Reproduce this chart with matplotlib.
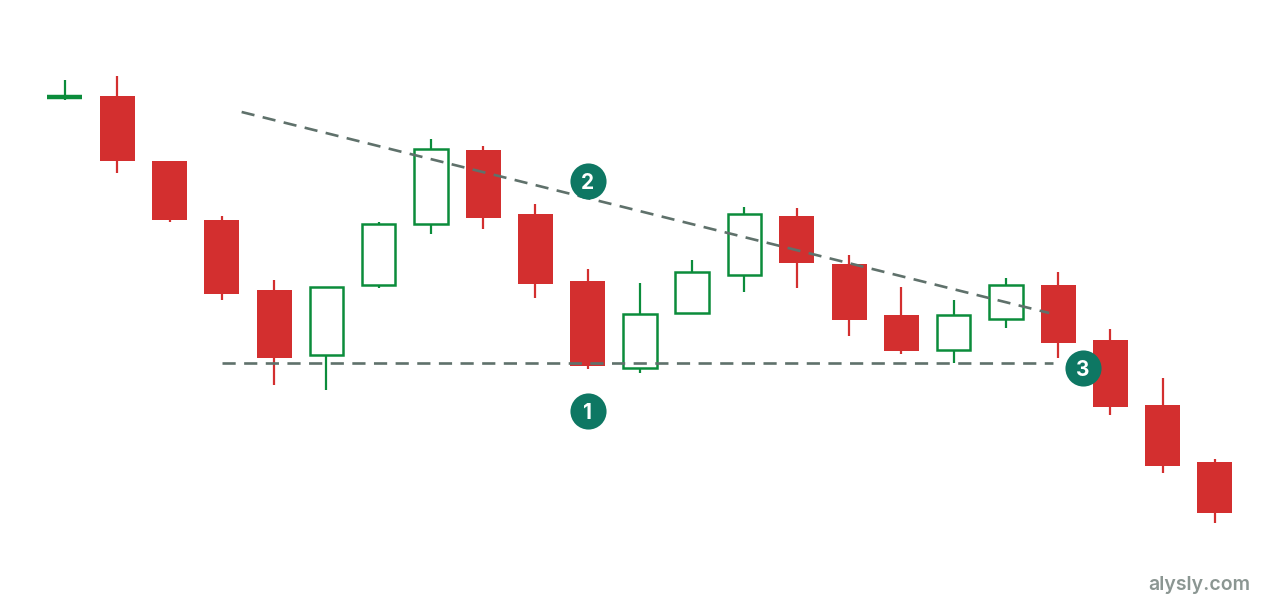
import matplotlib
matplotlib.use("Agg")
import matplotlib.pyplot as plt

# candle data (arbitrary price units)
opens  = [50.3, 50.4, 43.9, 38.0, 31.0, 24.5, 31.5, 37.6, 45.0, 38.6, 31.9, 23.2,
          28.7, 32.5, 38.4, 33.6, 28.5, 25.0, 28.1, 31.5, 26.0, 19.5, 13.8]
highs  = [52.0, 52.4, 43.9, 38.4, 32.0, 31.3, 37.8, 46.1, 45.4, 39.6, 33.1, 31.7,
          34.0, 39.3, 39.2, 34.5, 31.3, 30.0, 32.2, 32.8, 27.1, 22.2, 14.1]
lows   = [50.0, 42.7, 37.8, 30.0, 21.5, 21.0, 31.2, 36.6, 37.1, 30.2, 23.1, 22.7,
          28.6, 30.8, 31.2, 26.4, 24.6, 23.7, 27.2, 24.2, 18.5, 12.7, 7.7]
closes = [50.3, 43.9, 38.0, 30.6, 24.2, 31.3, 37.6, 45.1, 38.2, 31.6, 23.4, 28.6,
          32.8, 38.6, 33.7, 28.0, 24.9, 28.5, 31.5, 25.7, 19.3, 13.4, 8.7]

support_x = [3.0, 18.9]
support_y = [23.7, 23.7]
resist_x = [3.38, 18.83]
resist_y = [48.8, 28.7]

marker_x = [10.0, 10.0, 19.48]
marker_y = [18.9, 41.9, 23.2]
marker_labels = ["1", "2", "3"]

RED = "#d32f2f"
GREEN = "#0b8c3b"
DASH = "#5f716b"
TEAL = "#0e7763"

fig = plt.figure(figsize=(12.8, 6), dpi=100)
ax = fig.add_axes([0, 0, 1, 1])
ax.set_xlim(-1.243, 23.245)
ax.set_ylim(0, 60)
ax.axis("off")

w = 0.67
for i in range(len(opens)):
    o, h, l, c = opens[i], highs[i], lows[i], closes[i]
    up = c >= o
    col = GREEN if up else RED
    ax.vlines(i, l, h, color=col, lw=1.6, zorder=1)
    if o == c:
        ax.hlines(o, i - w / 2, i + w / 2, color=col, lw=3.2, zorder=2)
    elif up:
        ax.bar(i, c - o, bottom=o, width=w - 0.03, facecolor="white",
               edgecolor=col, linewidth=1.8, zorder=2)
    else:
        ax.bar(i, o - c, bottom=c, width=w, color=col, linewidth=0, zorder=2)

ax.plot(support_x, support_y, color=DASH, lw=1.9, dashes=(5, 3.2), zorder=3)
ax.plot(resist_x, resist_y, color=DASH, lw=1.9, dashes=(5, 3.2), zorder=3)

for x, y, t in zip(marker_x, marker_y, marker_labels):
    ax.plot(x, y, "o", ms=26, color=TEAL, mew=0, zorder=5)
    ax.text(x, y, t, color="white", fontsize=15, fontweight="bold",
            family=["Inter", "DejaVu Sans"], ha="center", va="center_baseline", zorder=6)

fig.text(0.977, 0.0167, "alysly.com", color="#8b9692", fontsize=14, fontweight="semibold",
         family=["Inter", "DejaVu Sans"], ha="right", va="baseline")

plt.savefig("out.png", dpi=100)
